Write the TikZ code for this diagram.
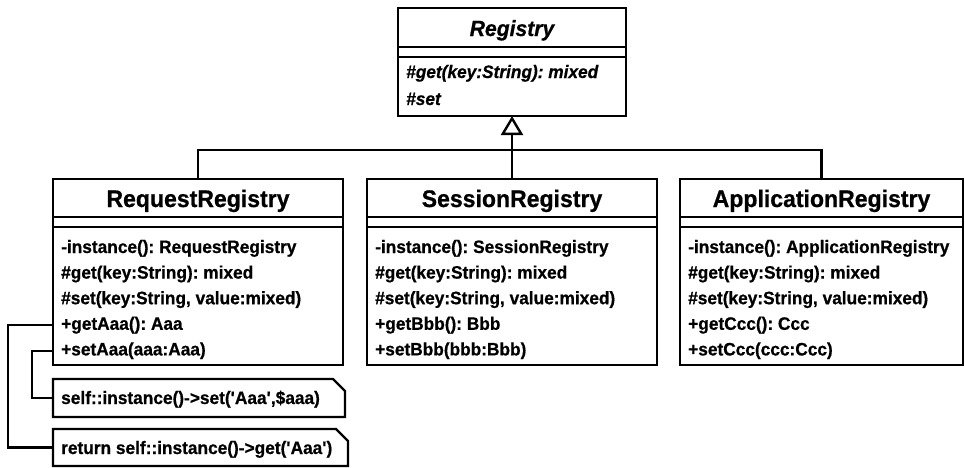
\documentclass[tikz,border=0pt]{standalone}
\usepackage{fontspec}
\setmainfont{Liberation Sans}[FakeStretch=0.96,BoldFeatures={FakeBold=0.7},BoldItalicFeatures={FakeBold=0.7}]
\usetikzlibrary{arrows.meta}
\newcommand\sq{\textquotesingle}
\frenchspacing
\begin{document}
\begin{tikzpicture}[x=1pt,y=-1pt,line width=2.4pt,
  classbox/.style={draw,anchor=north west,inner sep=0pt,outer sep=0pt},
  notebox/.style={anchor=north west,inner sep=0pt,outer sep=0pt},
  ctitle/.style={font=\bfseries\fontsize{24}{28}\selectfont,anchor=base,inner sep=0pt},
  atitle/.style={font=\bfseries\itshape\fontsize{22}{26}\selectfont,anchor=base,inner sep=0pt},
  meth/.style={font=\bfseries\fontsize{18}{22}\selectfont,anchor=base west,inner sep=0pt},
  ameth/.style={font=\bfseries\itshape\fontsize{18}{22}\selectfont,anchor=base west,inner sep=0pt}]
\useasboundingbox (0,0) rectangle (965,467);
\fill[white] (0,0) rectangle (965,467);

% abstract class
\node[classbox,minimum width=228pt,minimum height=108pt] (reg) at (398,8) {};
\draw ([yshift=-39pt]reg.north west) -- ([yshift=-39pt]reg.north east);
\draw ([yshift=-49pt]reg.north west) -- ([yshift=-49pt]reg.north east);
\node[atitle] (reg-t) at ([yshift=-28pt]reg.north) {Registry};
\node[ameth] (reg-m1) at ([xshift=7pt,yshift=-70pt]reg.north west) {\#get(key:String): mixed};
\node[ameth] (reg-m2) at ([xshift=7pt,yshift=-97pt]reg.north west) {\#set};

% subclasses
\node[classbox,minimum width=290pt,minimum height=186pt] (req) at (53,179) {};
\node[classbox,minimum width=290pt,minimum height=186pt] (ses) at (367,179) {};
\node[classbox,minimum width=283pt,minimum height=186pt] (app) at (680,179) {};
\foreach \b in {req,ses,app}{
  \draw ([yshift=-38pt]\b.north west) -- ([yshift=-38pt]\b.north east);
  \draw ([yshift=-48pt]\b.north west) -- ([yshift=-48pt]\b.north east);
}
\node[ctitle] (req-t) at ([yshift=-28pt]req.north) {RequestRegistry};
\node[ctitle] (ses-t) at ([yshift=-28pt]ses.north) {SessionRegistry};
\node[ctitle] (app-t) at ([yshift=-28pt]app.north) {ApplicationRegistry};

\node[meth] (req-m1) at ([xshift=7pt,yshift=-74pt]req.north west) {-instance(): RequestRegistry};
\node[meth] (req-m2) at ([xshift=7pt,yshift=-99.6pt]req.north west) {\#get(key:String): mixed};
\node[meth] (req-m3) at ([xshift=7pt,yshift=-125.2pt]req.north west) {\#set(key:String, value:mixed)};
\node[meth] (req-m4) at ([xshift=7pt,yshift=-150.8pt]req.north west) {+getAaa(): Aaa};
\node[meth] (req-m5) at ([xshift=7pt,yshift=-176.4pt]req.north west) {+setAaa(aaa:Aaa)};

\node[meth] (ses-m1) at ([xshift=7pt,yshift=-74pt]ses.north west) {-instance(): SessionRegistry};
\node[meth] (ses-m2) at ([xshift=7pt,yshift=-99.6pt]ses.north west) {\#get(key:String): mixed};
\node[meth] (ses-m3) at ([xshift=7pt,yshift=-125.2pt]ses.north west) {\#set(key:String, value:mixed)};
\node[meth] (ses-m4) at ([xshift=7pt,yshift=-150.8pt]ses.north west) {+getBbb(): Bbb};
\node[meth] (ses-m5) at ([xshift=7pt,yshift=-176.4pt]ses.north west) {+setBbb(bbb:Bbb)};

\node[meth] (app-m1) at ([xshift=7pt,yshift=-74pt]app.north west) {-instance(): ApplicationRegistry};
\node[meth] (app-m2) at ([xshift=7pt,yshift=-99.6pt]app.north west) {\#get(key:String): mixed};
\node[meth] (app-m3) at ([xshift=7pt,yshift=-125.2pt]app.north west) {\#set(key:String, value:mixed)};
\node[meth] (app-m4) at ([xshift=7pt,yshift=-150.8pt]app.north west) {+getCcc(): Ccc};
\node[meth] (app-m5) at ([xshift=7pt,yshift=-176.4pt]app.north west) {+setCcc(ccc:Ccc)};

% generalization
\coordinate (j) at (512,150);
\draw[-{Triangle[open,length=19pt,width=22pt]}] (j) -- (reg.south);
\draw (req.north) |- (j) -| (app.north);
\draw (j) -- (ses.north);

% notes
\node[notebox,minimum width=292pt,minimum height=38pt] (n1) at (53,379) {};
\draw (n1.north west) -- ([xshift=-12pt]n1.north east) -- ([yshift=-12pt]n1.north east) -- (n1.south east) -- (n1.south west) -- cycle;
\node[meth] (n1-t) at ([xshift=7pt,yshift=-25pt]n1.north west) {self::instance()->set(\sq Aaa\sq,\$aaa)};

\node[notebox,minimum width=295pt,minimum height=37pt] (n2) at (53,429) {};
\draw (n2.north west) -- ([xshift=-12pt]n2.north east) -- ([yshift=-12pt]n2.north east) -- (n2.south east) -- (n2.south west) -- cycle;
\node[meth] (n2-t) at ([xshift=7pt,yshift=-25pt]n2.north west) {return self::instance()->get(\sq Aaa\sq)};

% note links
\draw (req.west |- req-m4) -- ++(-45,0) |- (n2.west);
\draw (req.west |- req-m5) -- ++(-21,0) |- (n1.west);
\end{tikzpicture}
\end{document}
